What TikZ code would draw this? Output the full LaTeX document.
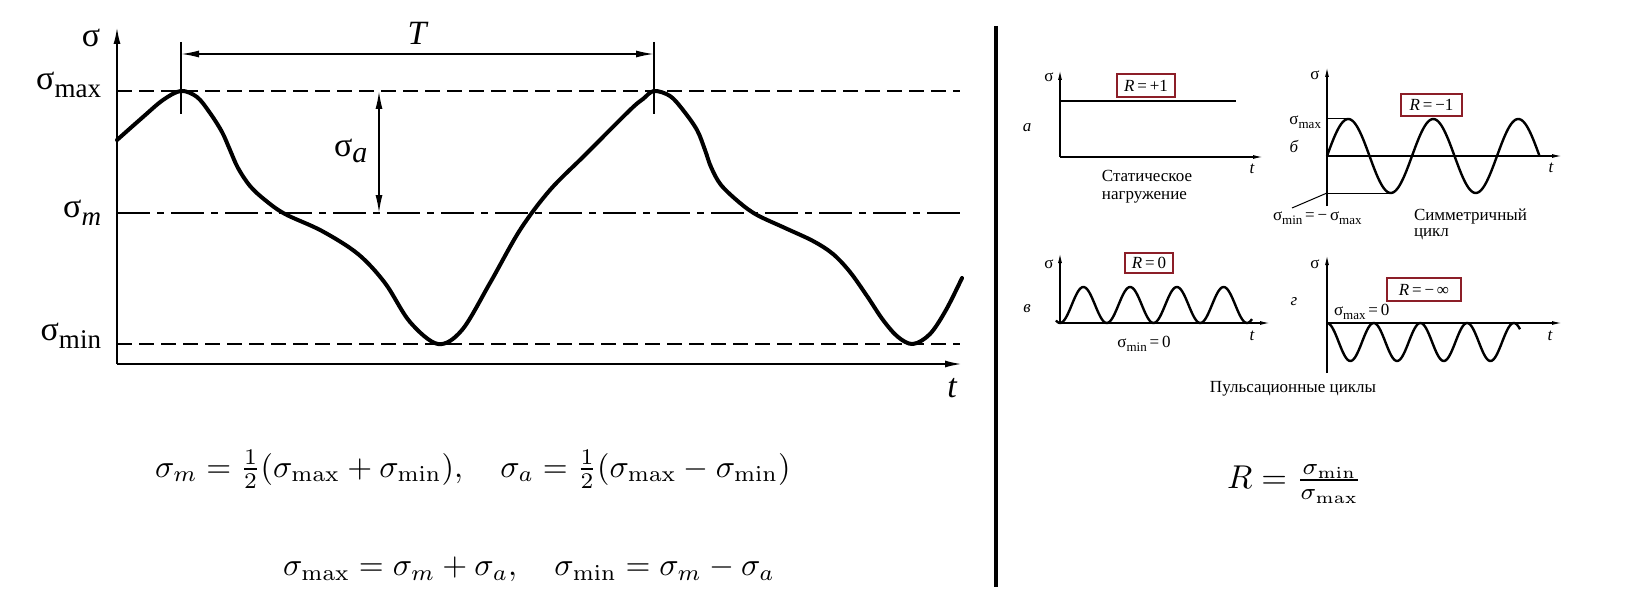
\documentclass[tikz,border=0pt]{standalone}
\usepackage[no-math]{fontspec}
\setmainfont{Liberation Serif}
\usetikzlibrary{arrows.meta}
\definecolor{boxred}{RGB}{140,30,40}
\newcommand\bigsub[2]{#1\raisebox{-8pt}{\fontsize{27}{27}\selectfont #2}}
\newcommand\smsub[2]{#1\raisebox{-4pt}{\fontsize{13}{13}\selectfont #2}}
\tikzset{
  every node/.style={inner sep=0pt, outer sep=0pt},
  mainaxis/.style={line width=2pt, -{Latex[length=17pt,width=7pt]}},
  curve/.style={line width=4pt, line join=round, line cap=round},
  dashedline/.style={line width=2pt, dash pattern=on 15pt off 7pt},
  dashdot/.style={line width=1.8pt, dash pattern=on 33pt off 7pt on 7pt off 7pt},
  dimline/.style={line width=1.6pt, {Latex[length=18pt,width=7pt]}-{Latex[length=18pt,width=7pt]}},
  tickline/.style={line width=1.6pt},
  saxis/.style={line width=1.3pt, -{Latex[length=10pt,width=4pt]}},
  sline/.style={line width=1pt},
  wave/.style={line width=2.4pt},
  rbox/.style={draw=boxred, line width=1.2pt, align=center, font=\fontsize{17}{17}\selectfont},
  bigfont/.style={font=\fontsize{34}{34}\selectfont},
  smfont/.style={font=\fontsize{17}{17}\selectfont},
}
\begin{document}
\begin{tikzpicture}[x=1pt,y=-1pt]
\useasboundingbox (0,0) rectangle (1644,615);
% ---------------- main graph ----------------
\coordinate (O) at (117,364);
\coordinate (Ytop) at (117,27);
\coordinate (Xend) at (962,364);
\draw[mainaxis] (O) -- (Ytop);
\draw[mainaxis] (O) -- (Xend);
\coordinate (maxL) at (117,91);  \coordinate (maxR) at (960,91);
\coordinate (mL) at (117,213);   \coordinate (mR) at (963,213);
\coordinate (minL) at (117,344); \coordinate (minR) at (960,344);
\draw[dashedline] (maxL) -- (maxR);
\draw[dashdot] (mL) -- (mR);
\draw[dashedline] (minL) -- (minR);
% ticks at peaks
\coordinate (p1t) at (181,42); \coordinate (p1b) at (181,114);
\coordinate (p2t) at (654,42); \coordinate (p2b) at (654,114);
\draw[tickline] (p1t) -- (p1b);
\draw[tickline] (p2t) -- (p2b);
\coordinate (T1) at (181,54); \coordinate (T2) at (654,54);
\draw[dimline] (T1) -- (T2);
\coordinate (A1) at (379,91); \coordinate (A2) at (379,213);
\draw[dimline] (A1) -- (A2);
% curve
\draw[curve] plot[smooth, tension=0.55] coordinates {
 (117,140) (143,117) (163,100) (181,91) (197,97) (210,113) (222,132) (230,150)
 (238,168) (250,186) (265,200) (285,214) (322,231) (358,254) (385,283) (410,322)
 (438,344) (462,330) (490,283) (520,230) (550,190) (585,155) (630,110) (643,99)
 (654,91) (670,96) (683,110) (697,130) (705,150) (711,167) (721,185) (740,203)
 (757,215) (785,228) (813,241) (833,254) (850,272) (867,296) (883,320) (898,337)
 (913,344) (930,334) (946,310) (962,278)};
% labels
\node[bigfont, anchor=base] (lsig) at (91,47) {σ};
\node[bigfont, anchor=base east] (lmax) at (101,90) {\bigsub{σ}{max}};
\node[bigfont, anchor=base east] (lm) at (101,217) {\bigsub{σ}{\itshape m}};
\node[bigfont, anchor=base east] (lmin) at (101,340) {\bigsub{σ}{min}};
\node[bigfont, anchor=base west] (la) at (334,157) {σ\raisebox{-6pt}{\fontsize{30}{30}\selectfont\itshape a}};
\node[bigfont, anchor=base] (lT) at (417,45) {\itshape T};
\node[bigfont, anchor=base] (lt) at (952,397) {\itshape t};
% formulas
\node[anchor=west] (f1) at (155,469) {\scalebox{3.2}{$\sigma_m = \frac{1}{2}(\sigma_{\max}+\sigma_{\min}),\quad \sigma_a=\frac{1}{2}(\sigma_{\max}-\sigma_{\min})$}};
\node[anchor=west] (f2) at (283,569) {\scalebox{3.2}{$\sigma_{\max} = \sigma_m+\sigma_a,\quad \sigma_{\min}=\sigma_m-\sigma_a$}};
% separator
\coordinate (s1) at (996,26); \coordinate (s2) at (996,587);
\draw[line width=4pt] (s1) -- (s2);
% ---------------- panel a ----------------
\coordinate (aO) at (1060,157); \coordinate (aY) at (1060,70); \coordinate (aX) at (1263,157);
\draw[saxis] (aO) -- (aY);
\draw[saxis] (aO) -- (aX);
\coordinate (aL1) at (1060,101); \coordinate (aL2) at (1236,101);
\draw[wave] (aL1) -- (aL2);
\node[rbox, minimum width=58pt, minimum height=23pt] (ba) at (1146,85.5) {\textit{R}\,=\,+1};
\node[smfont, anchor=base] (asig) at (1049,82) {σ};
\node[smfont, anchor=base] (alab) at (1027,132) {\itshape а};
\node[smfont, anchor=base] (at) at (1252,173) {\itshape t};
\node[smfont, anchor=base] (atxt1) at (1147,182) {Статическое};
\node[smfont, anchor=base west] (atxt2) at ([yshift=-17pt]atxt1.base west) {нагружение};
% ---------------- panel b ----------------
\coordinate (bO) at (1327,156); \coordinate (bY) at (1327,67); \coordinate (bX) at (1562,156);
\coordinate (bB) at (1327,206);
\draw[saxis] (bB) -- (bY);
\draw[saxis] (bO) -- (bX);
\coordinate (bmax) at (1327,119); \coordinate (bpk) at (1348,119);
\coordinate (bmin) at (1327,193); \coordinate (btr) at (1392,193);
\draw[sline] (bmax) -- (bpk);
\draw[sline] (bmin) -- (btr);
\coordinate (blead) at (1292,208);
\draw[sline] (blead) -- (bmin);
\draw[wave] plot[domain=0:212.5, samples=150, smooth] ({1327+\x},{156-37*sin(\x*4.23529)});
\node[rbox, minimum width=61pt, minimum height=22pt] (bb) at (1431.5,105) {\textit{R}\,=\,−1};
\node[smfont, anchor=base] (bsig) at (1315,80) {σ};
\node[smfont, anchor=base east] (bsmax) at (1321,125) {\smsub{σ}{max}};
\node[smfont, anchor=base] (blab) at (1294,153) {\itshape б};
\node[smfont, anchor=base] (bt) at (1551,172) {\itshape t};
\node[smfont, anchor=base west] (bsmin) at (1273,220) {\smsub{σ}{min}\,=\,−\,\smsub{σ}{max}};
\node[smfont, anchor=base west] (btxt1) at (1414,220) {Симметричный};
\node[smfont, anchor=base west] (btxt2) at (1414,236) {цикл};
% ---------------- panel v ----------------
\coordinate (vO) at (1060,323); \coordinate (vY) at (1060,253); \coordinate (vX) at (1270,323);
\draw[saxis] (vO) -- (vY);
\draw[saxis] (vO) -- (vX);
\draw[wave] plot[domain=-4:192, samples=160, smooth] ({1060+\x},{305+18*cos(\x*7.70053)});
\node[rbox, minimum width=48pt, minimum height=20pt] (bv) at (1149,263) {\textit{R}\,=\,0};
\node[smfont, anchor=base] (vsig) at (1049,268) {σ};
\node[smfont, anchor=base] (vlab) at (1027,312) {\itshape в};
\node[smfont, anchor=base] (vt) at (1252,340) {\itshape t};
\node[smfont, anchor=base] (vsmin) at (1144,347) {\smsub{σ}{min}\,=\,0};
\node[smfont, anchor=base] (ptxt) at (1293,392) {Пульсационные циклы};
% ---------------- panel g ----------------
\coordinate (gB) at (1327,373); \coordinate (gY) at (1327,255);
\coordinate (gO) at (1327,323); \coordinate (gX) at (1562,323);
\draw[saxis] (gB) -- (gY);
\draw[saxis] (gO) -- (gX);
\draw[wave] plot[domain=0:193, samples=160, smooth] ({1327+\x},{342-19*cos(\x*7.70878)});
\node[rbox, minimum width=74pt, minimum height=23pt] (bg) at (1424,289.5) {\textit{R}\,=\,−\,∞};
\node[smfont, anchor=base] (gsig) at (1315,268) {σ};
\node[smfont, anchor=base] (glab) at (1294,305) {\itshape г};
\node[smfont, anchor=base west] (gsmax) at (1334,315) {\smsub{σ}{max}\,=\,0};
\node[smfont, anchor=base] (gt) at (1550,340) {\itshape t};
% R formula
\node[anchor=west] (fR) at (1227,484) {\scalebox{3.3}{$R=\frac{\sigma_{\min}}{\sigma_{\max}}$}};
\end{tikzpicture}
\end{document}
